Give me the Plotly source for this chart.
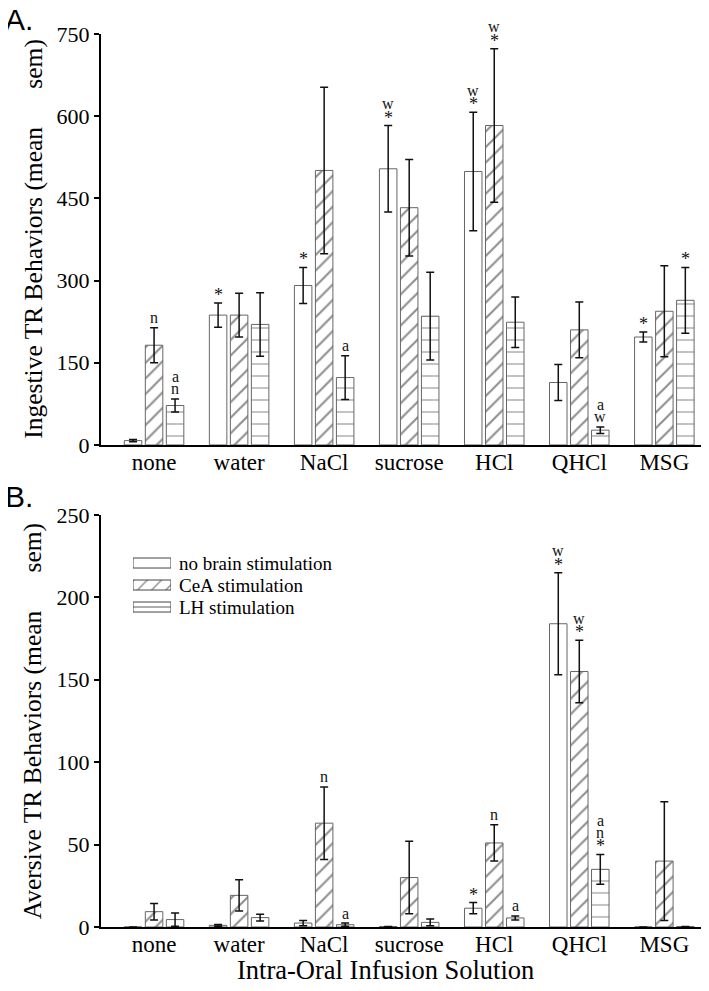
import plotly.graph_objects as go
from plotly.subplots import make_subplots

categories = ["none", "water", "NaCl", "sucrose", "HCl", "QHCl", "MSG"]
series_names = ["no brain stimulation", "CeA stimulation", "LH stimulation"]

# Panel A: ingestive TR behaviors
ing_nobrain = [8, 237, 291, 504, 499, 114, 197]
ing_nobrain_err = [2, 22, 33, 79, 108, 33, 9]
ing_cea = [182, 237, 501, 433, 583, 210, 244]
ing_cea_err = [32, 40, 152, 88, 140, 51, 83]
ing_lh = [72, 220, 123, 235, 224, 27, 264]
ing_lh_err = [12, 58, 40, 80, 46, 6, 60]
ing_sig_nobrain = ["", "*", "*", "*w", "*w", "", "*"]
ing_sig_cea = ["n", "", "", "", "*w", "", ""]
ing_sig_lh = ["na", "", "a", "", "", "wa", "*"]

# Panel B: aversive TR behaviors
av_nobrain = [0, 1, 2.4, 0.3, 11.4, 184, 0]
av_nobrain_err = [0, 0.5, 1.6, 0, 3.4, 31, 0]
av_cea = [9.3, 19.2, 63, 30, 51, 155, 40]
av_cea_err = [5, 9.5, 22, 22, 11, 19, 36]
av_lh = [4.5, 5.7, 1.4, 2.8, 5.5, 35, 0.3]
av_lh_err = [4, 2, 1, 2, 1.2, 9, 0]
av_sig_nobrain = ["", "", "", "", "*", "*w", ""]
av_sig_cea = ["", "", "n", "", "n", "*w", ""]
av_sig_lh = ["", "", "a", "", "a", "*na", ""]

ing_ticks = [0, 150, 300, 450, 600, 750]
av_ticks = [0, 50, 100, 150, 200, 250]

SERIF = "Liberation Serif"
SANS = "Liberation Sans"

fig = make_subplots(rows=2, cols=1)

pattern_shapes = ["", "/", "-"]
patterns = [dict(shape=""),
            dict(shape="/", size=11, solidity=0.2, fgcolor="#222", bgcolor="white"),
            dict(shape="-", size=12, solidity=0.1, fgcolor="#333", bgcolor="white")]
OUTLINE = "#666"

xs = list(range(len(categories)))
panels = [
    ([ing_nobrain, ing_cea, ing_lh], [ing_nobrain_err, ing_cea_err, ing_lh_err],
     [ing_sig_nobrain, ing_sig_cea, ing_sig_lh]),
    ([av_nobrain, av_cea, av_lh], [av_nobrain_err, av_cea_err, av_lh_err],
     [av_sig_nobrain, av_sig_cea, av_sig_lh]),
]

bargap = 0.259
slot = (1 - bargap) / 3
offsets = [-slot, 0, slot]

annotations = []
for p, (vals, errs, sigs) in enumerate(panels):
    row = p + 1
    for s in range(3):
        fig.add_trace(go.Bar(
            x=xs, y=vals[s], name=series_names[s],
            marker=dict(color="white", line=dict(color=OUTLINE, width=1),
                        pattern=patterns[s]),
            error_y=dict(type="data", array=errs[s], visible=True,
                         color="#111", thickness=1.5, width=4),
            showlegend=False,
        ), row=row, col=1)
        xref = "x" if p == 0 else "x2"
        yref = "y" if p == 0 else "y2"
        for i, lab in enumerate(sigs[s]):
            for k, ch in enumerate(lab):
                annotations.append(dict(
                    x=xs[i] + offsets[s], y=vals[s][i] + errs[s][i], xref=xref, yref=yref,
                    text=ch, showarrow=False, xanchor="center", yanchor="middle",
                    yshift=(8 if ch == "*" else 10) + 12 * k,
                    font=dict(family=SERIF, size=(18 if ch == "*" else 16), color="#111"),
                ))

# Custom legend: swatches drawn as horizontal bars on a hidden axis pair
fig.add_trace(go.Bar(
    x=[1, 1, 1], y=[0, 1, 2], orientation="h", width=0.455,
    marker=dict(color="white", line=dict(color="#444", width=1),
                pattern=dict(shape=pattern_shapes, size=10, solidity=0.15,
                             fgcolor="#222", bgcolor="white")),
    xaxis="x3", yaxis="y3", showlegend=False, hoverinfo="skip",
))
for r, name in enumerate(series_names):
    annotations.append(dict(
        text=name, x=0.1255, y=r, xref="paper", yref="y3", xanchor="left",
        yanchor="middle", showarrow=False,
        font=dict(family=SERIF, size=19, color="black")))

axis_common = dict(showgrid=False, zeroline=False, showline=True, linecolor="black",
                   linewidth=2)
for r in (1, 2):
    fig.update_xaxes(axis_common, row=r, col=1, tickvals=xs, ticktext=categories,
                     range=[-0.624, 6.49], ticks="", ticklabelstandoff=-5,
                     tickfont=dict(family=SERIF, size=23, color="black"))
fig.update_yaxes(axis_common, row=1, col=1, range=[0, 750], tickvals=ing_ticks,
                 domain=[0.5398, 1.0],
                 ticks="outside", ticklen=5, tickwidth=1.5, tickcolor="black",
                 tickfont=dict(family=SERIF, size=22, color="black"))
fig.update_yaxes(axis_common, row=2, col=1, range=[0, 250], tickvals=av_ticks,
                 domain=[0.0, 0.4614],
                 ticks="outside", ticklen=5, tickwidth=1.5, tickcolor="black",
                 tickfont=dict(family=SERIF, size=22, color="black"))

gap = "\u00a0" * 6
annotations += [
    dict(text="A.", x=-0.162, y=1.037, xref="paper", yref="paper", xanchor="left",
         yanchor="top", showarrow=False, font=dict(family=SANS, size=30, color="black")),
    dict(text="B.", x=-0.162, y=0.5025, xref="paper", yref="paper", xanchor="left",
         yanchor="top", showarrow=False, font=dict(family=SANS, size=30, color="black")),
    dict(text="Ingestive TR Behaviors (mean" + gap + "sem)", x=-0.112, y=0.771,
         xref="paper", yref="paper", xanchor="center", yanchor="middle", textangle=-90,
         showarrow=False, font=dict(family=SERIF, size=25.5, color="black")),
    dict(text="Aversive TR Behaviors (mean" + gap + "sem)", x=-0.112, y=0.2307,
         xref="paper", yref="paper", xanchor="center", yanchor="middle", textangle=-90,
         showarrow=False, font=dict(family=SERIF, size=25.5, color="black")),
    dict(text="Intra-Oral Infusion Solution", x=0.471, y=-0.048, xref="paper",
         yref="paper", xanchor="center", yanchor="middle", showarrow=False,
         font=dict(family=SERIF, size=26.5, color="black")),
]

fig.update_layout(
    width=701, height=983,
    margin=dict(l=93, r=3, t=26, b=64),
    paper_bgcolor="white", plot_bgcolor="white",
    barmode="group", bargap=bargap, bargroupgap=0.167,
    annotations=annotations,
    showlegend=False,
    xaxis3=dict(domain=[0.0529, 0.1157], range=[0, 1], visible=False, anchor="y3",
                fixedrange=True),
    yaxis3=dict(domain=[0.346, 0.4199], range=[2.5, -0.5], visible=False, anchor="x3",
                fixedrange=True),
    font=dict(family=SERIF, color="black"),
)

fig.write_html("out.html")
